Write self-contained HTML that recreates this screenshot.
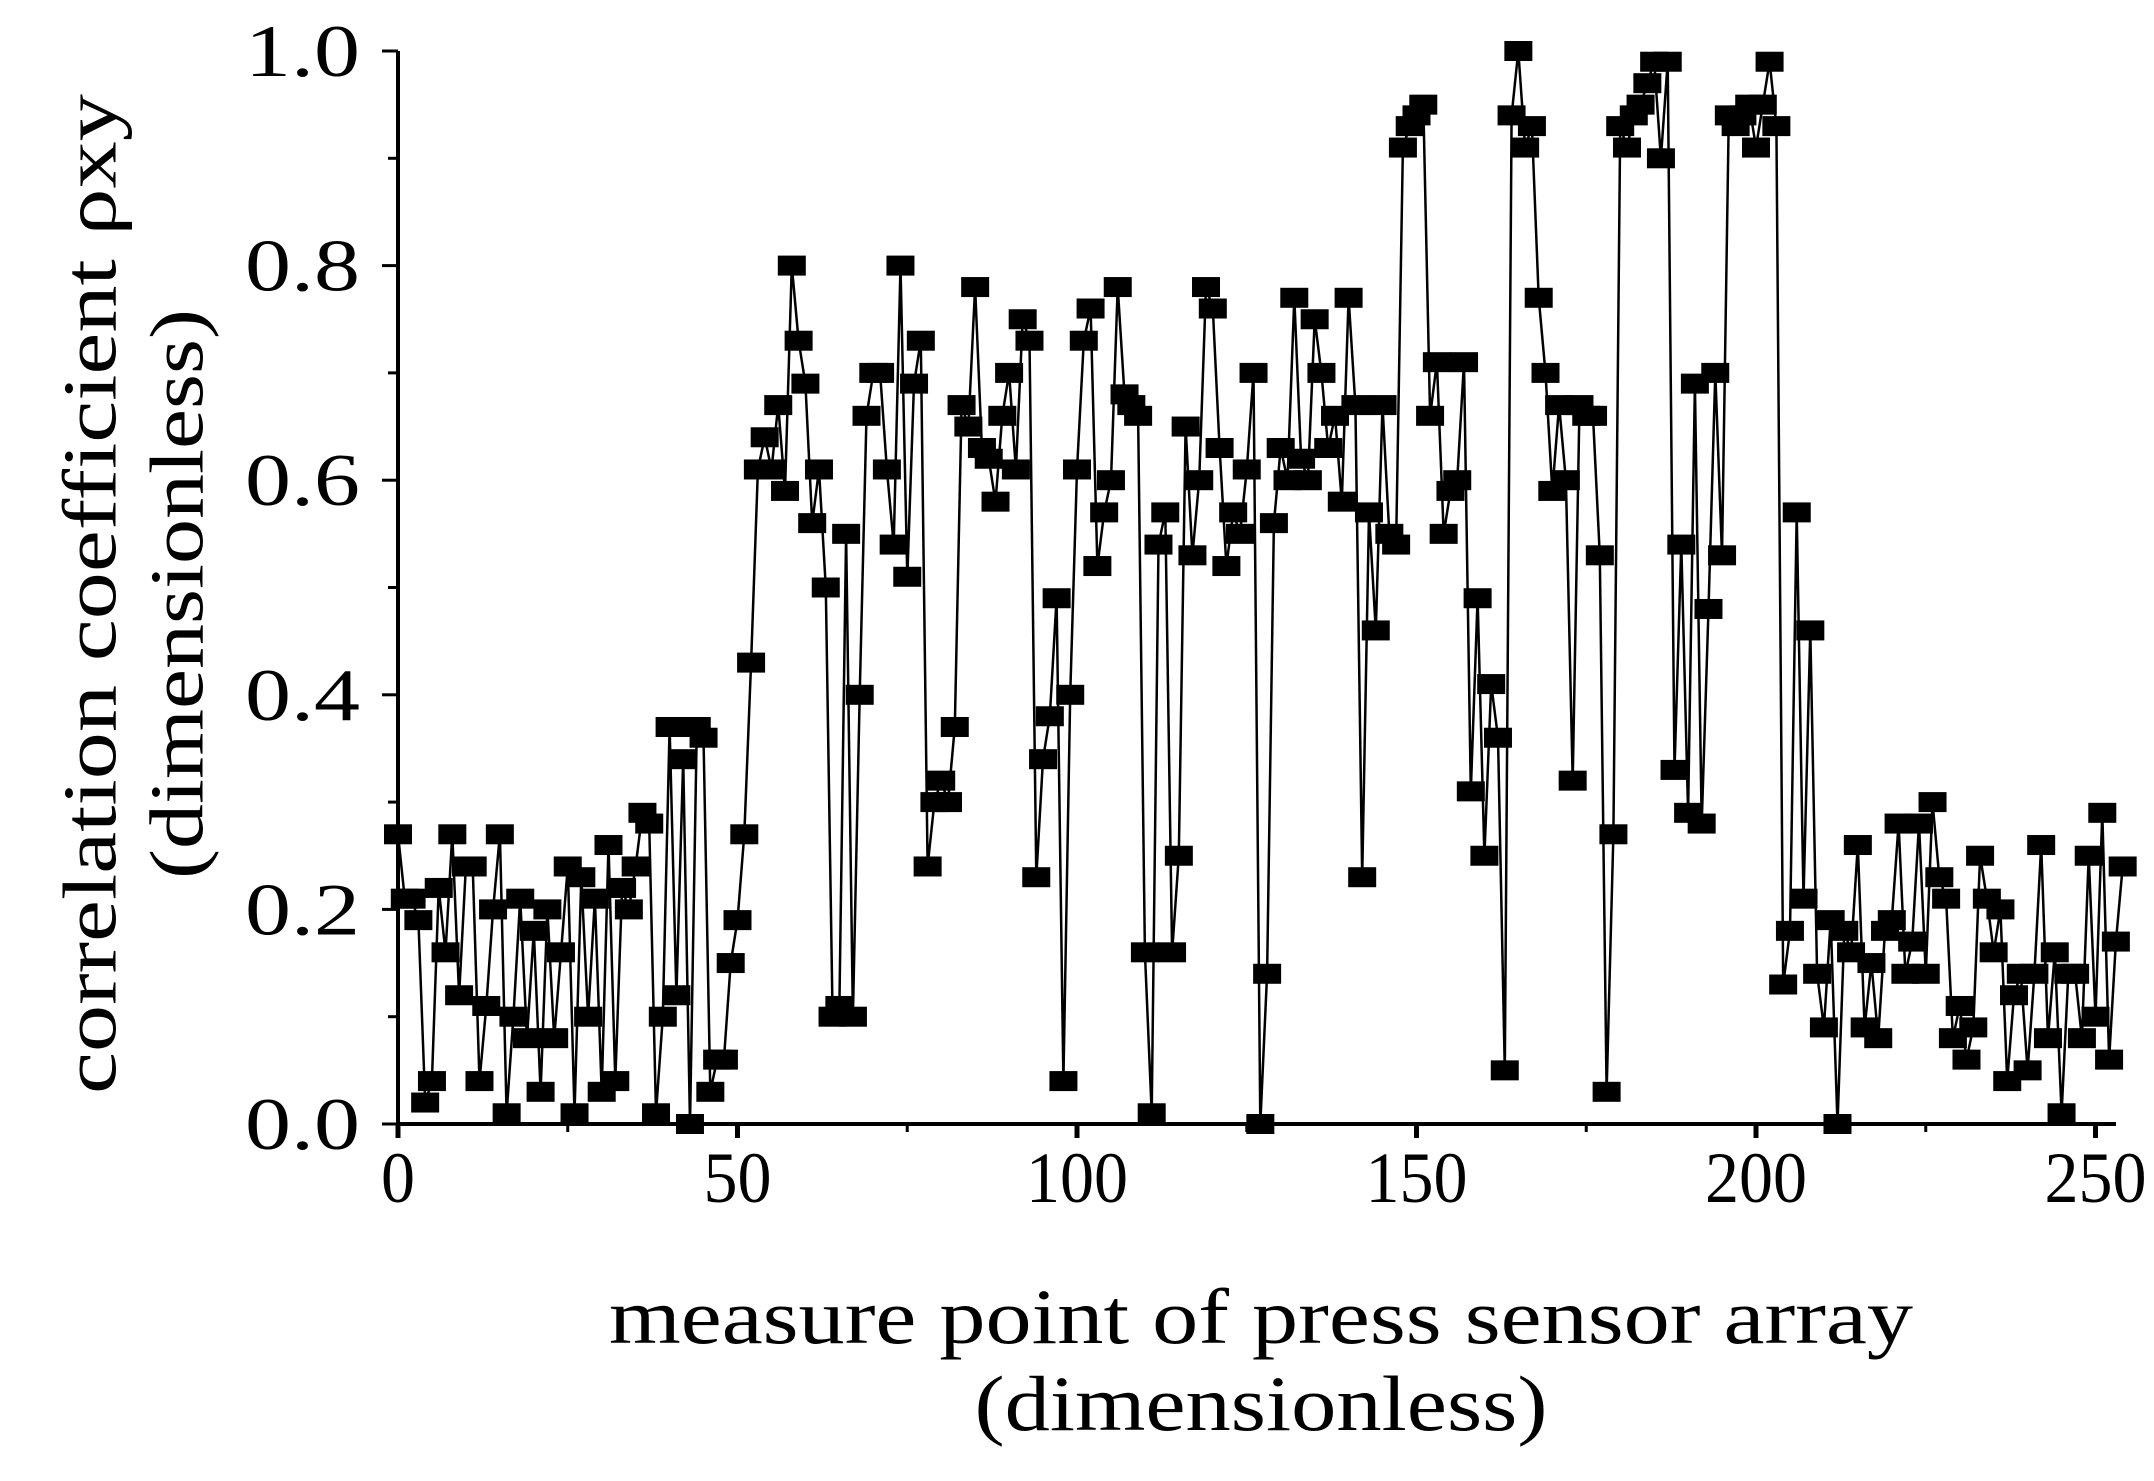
<!DOCTYPE html>
<html><head><meta charset="utf-8"><style>
html,body{margin:0;padding:0;background:#fff;}
svg text{font-family:"Liberation Serif","DejaVu Serif",serif;fill:#000;}
</style></head><body>
<svg id="chart" width="2154" height="1476" viewBox="0 0 2154 1476" xmlns="http://www.w3.org/2000/svg">
<g id="axes"></g>
<g id="series"></g>
<text transform="translate(89,594) rotate(-90)" text-anchor="middle" font-size="76" dy="0.35em" textLength="1000" lengthAdjust="spacingAndGlyphs">correlation coefficient ρxy</text>
<text transform="translate(176,594) rotate(-90)" text-anchor="middle" font-size="76" dy="0.35em" textLength="570" lengthAdjust="spacingAndGlyphs">(dimensionless)</text>
<text x="1261" y="1343" text-anchor="middle" font-size="78" textLength="1304" lengthAdjust="spacingAndGlyphs">measure point of press sensor array</text>
<text x="1261" y="1430" text-anchor="middle" font-size="78" textLength="573" lengthAdjust="spacingAndGlyphs">(dimensionless)</text>
</svg>
<script>
const values = [0.27,0.21,0.21,0.19,0.02,0.04,0.22,0.16,0.27,0.12,0.24,
0.24,0.04,0.11,0.20,0.27,0.01,0.10,0.21,0.08,0.18,0.03,0.20,0.08,0.16,0.24,0.01,0.23,0.10,0.21,0.03,
0.26,0.04,0.22,0.20,0.24,0.29,0.28,0.01,0.10,0.37,0.12,0.34,0.00,0.37,0.36,0.03,0.06,0.06,0.15,0.19,
0.27,0.43,0.61,0.64,0.61,0.67,0.59,0.80,0.73,0.69,0.56,0.61,0.50,0.10,0.11,0.55,0.10,0.40,0.66,0.70,
0.70,0.61,0.54,0.80,0.51,0.69,0.73,0.24,0.30,0.32,0.30,0.37,0.67,0.65,0.78,0.63,0.62,0.58,0.66,0.70,
0.61,0.75,0.73,0.23,0.34,0.38,0.49,0.04,0.40,0.61,0.73,0.76,0.52,0.57,0.60,0.78,0.68,0.67,0.66,0.16,
0.01,0.54,0.57,0.16,0.25,0.65,0.53,0.60,0.78,0.76,0.63,0.52,0.57,0.55,0.61,0.70,0.00,0.14,0.56,0.63,
0.60,0.77,0.62,0.60,0.75,0.70,0.63,0.66,0.58,0.77,0.67,0.23,0.57,0.46,0.67,0.55,0.54,0.91,0.93,0.94,
0.95,0.66,0.71,0.55,0.59,0.60,0.71,0.31,0.49,0.25,0.41,0.36,0.05,0.94,1.00,0.91,0.93,0.77,0.70,0.59,
0.67,0.60,0.32,0.67,0.66,0.66,0.53,0.03,0.27,0.93,0.91,0.94,0.95,0.97,0.99,0.90,0.99,0.33,0.54,0.29,
0.69,0.28,0.48,0.70,0.53,0.94,0.93,0.94,0.95,0.91,0.95,0.99,0.93,0.13,0.18,0.57,0.21,0.46,0.14,0.09,
0.19,0.00,0.18,0.16,0.26,0.09,0.15,0.08,0.18,0.19,0.28,0.14,0.17,0.28,0.14,0.30,0.23,0.21,0.08,0.11,
0.06,0.09,0.25,0.21,0.16,0.20,0.04,0.12,0.14,0.05,0.14,0.26,0.08,0.16,0.01,0.14,0.14,0.08,0.25,0.10,
0.29,0.06,0.17,0.24];
const xTicks = [0,50,100,150,200,250];
const yTicks = [0.0,0.2,0.4,0.6,0.8,1.0];

const X0=398, XS=6.79, Y0=1124, YT=51;
const xPos = v => X0 + v*XS;
const yPos = v => Y0 - v*(Y0-YT);
const NS="http://www.w3.org/2000/svg";
const axes=document.getElementById('axes'), ser=document.getElementById('series');
function mk(tag, attrs, parent){const e=document.createElementNS(NS,tag);for(const k in attrs)e.setAttribute(k,attrs[k]);parent.appendChild(e);return e;}

let e=mk('line',{x1:X0,y1:Y0,x2:2116,y2:Y0,stroke:'#000','stroke-width':4},axes);


e=mk('line',{x1:X0,y1:Y0+2,x2:X0,y2:YT,stroke:'#000','stroke-width':4},axes);



for(let v=0; v<=255; v+=25){
  const major = v%50===0;
  e=mk('line',{x1:xPos(v),y1:Y0,x2:xPos(v),y2:Y0+(major?14:8),stroke:'#000','stroke-width':major?5:3},axes);
  
  
}
xTicks.forEach(v=>{
  const s=String(v);
  e=mk('text',{x:xPos(v),y:Y0+78,'text-anchor':'middle','font-size':72,textLength:s.length*34,lengthAdjust:'spacingAndGlyphs'},axes);
  e.textContent=s;
  
  
});
for(let i=0;i<=10;i++){
  const v=i/10, major=i%2===0;
  e=mk('line',{x1:X0,y1:yPos(v),x2:X0-(major?16:10),y2:yPos(v),stroke:'#000','stroke-width':3},axes);
  
  
}
yTicks.forEach(v=>{
  e=mk('text',{x:360,y:yPos(v)+25,'text-anchor':'end','font-size':74,textLength:115,lengthAdjust:'spacingAndGlyphs'},axes);
  e.textContent=v.toFixed(1);
  
  
});

const pts=values.map((v,i)=>xPos(i).toFixed(1)+','+yPos(v).toFixed(1)).join(' ');
e=mk('polyline',{points:pts,fill:'none',stroke:'#000','stroke-width':2.5},ser);


values.forEach((v,i)=>{
  e=mk('rect',{x:xPos(i)-14,y:yPos(v)-10,width:28,height:20,fill:'#000'},ser);
  
  
});
</script>
</body></html>
